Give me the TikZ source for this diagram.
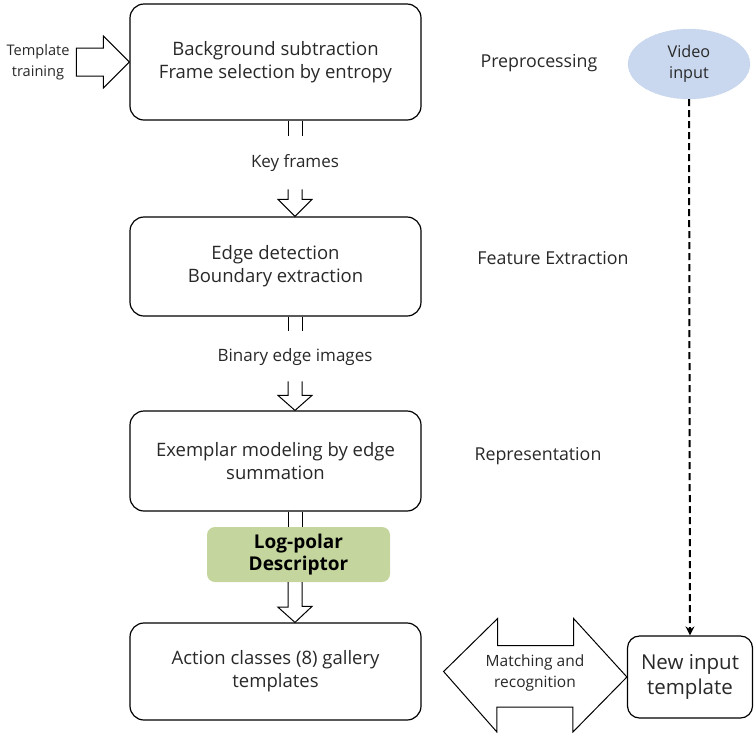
\documentclass[tikz,border=0pt]{standalone}
\usepackage{fontspec}
\setmainfont{Open Sans}
\usetikzlibrary{shapes.geometric,calc,arrows.meta}
\definecolor{vidblue}{RGB}{201,216,239}
\definecolor{videdge}{RGB}{178,197,228}
\definecolor{lpgreen}{RGB}{196,214,158}
\definecolor{txt}{RGB}{40,40,40}
\begin{document}
\begin{tikzpicture}[x=1pt,y=-1pt,
 box/.style={draw, line width=1.2pt, rounded corners=14pt, align=center, inner sep=0pt, font=\fontsize{18.5}{23}\selectfont, text=txt},
 blk/.style={draw, line width=1pt, fill=white, line join=miter},
 shaft/.style={draw, line width=1pt},
 lbl/.style={font=\fontsize{17}{20}\selectfont, text=txt, align=center},
 side/.style={font=\fontsize{17.8}{20}\selectfont, text=txt},
]
\useasboundingbox (0,0) rectangle (754,732);

% main boxes
\node[box, minimum width=291pt, minimum height=116pt] (b1) at (275.5,62) {Background subtraction\\Frame selection by entropy};
\node[box, minimum width=291pt, minimum height=99pt] (b2) at (275.5,266.5) {Edge detection\\Boundary extraction};
\node[box, minimum width=291pt, minimum height=100pt] (b3) at (275.5,461) {Exemplar modeling by edge\\summation};
\node[box, minimum width=291pt, minimum height=97pt] (b4) at (275.5,671.5) {Action classes (8) gallery\\templates};
\node[box, rounded corners=12pt, minimum width=125pt, minimum height=82pt, font=\fontsize{20.5}{25}\selectfont] (new) at (690,677) {New input\\template};

% video input
\node[ellipse, fill=vidblue, draw=videdge, densely dotted, minimum width=122pt, minimum height=70pt, inner sep=0pt, align=center, font=\fontsize{16.2}{21}\selectfont, text=txt] (video) at (689,64) {Video\\input};

% log-polar descriptor
\node[fill=lpgreen, rounded corners=8pt, minimum width=183pt, minimum height=55pt, inner sep=0pt, align=center, font=\fontsize{19}{22}\bfseries\selectfont, text=black] (lp) at (298.5,554.5) {Log-polar\\Descriptor};

% side labels
\node[side] (pre) at (539,63) {Preprocessing};
\node[side] (fe) at (553,258) {Feature Extraction};
\node[side] (rep) at (538,456) {Representation};

% template training arrow
\node[font=\fontsize{14.6}{21}\selectfont, text=txt, align=center] (tt) at (38,62) {Template\\training};
\draw[blk] (b1.west) ++(-26,-26) coordinate (h1) -- (b1.west) -- ++(-26,26) -- ++(0,-12) -- ++(-27,0) -- ++(0,-28) -- ++(27,0) -- cycle;

% arrow 1 : b1 -> b2
\node[lbl] (kf) at (295,163) {Key frames};
\draw[shaft] ($(b1.south)+(12.5,0)$) -- ++(0,15) ($(b1.south)+(26.5,0)$) -- ++(0,15);
\draw[blk, fill=none] ($(b2.north)+(12.5,-27)$) -- ++(0,10) -- ++(-10,0) -- ($(b2.north)+(19.5,0)$) -- ++(17,-17) -- ++(-10,0) -- ++(0,-10);

% arrow 2 : b2 -> b3
\node[lbl] (bei) at (295,357) {Binary edge images};
\draw[shaft] ($(b2.south)+(12.5,0)$) -- ++(0,14) ($(b2.south)+(26.5,0)$) -- ++(0,14);
\draw[blk, fill=none] ($(b3.north)+(12.5,-29)$) -- ++(0,14) -- ++(-10,0) -- ($(b3.north)+(19.5,0)$) -- ++(17,-15) -- ++(-10,0) -- ++(0,-14);

% arrow 3 : b3 -> lp -> b4
\draw[shaft] ($(b3.south)+(12.5,0)$) -- ($(lp.north)+(-10.5,0)$) ($(b3.south)+(26.5,0)$) -- ($(lp.north)+(3.5,0)$);
\draw[blk, fill=none] ($(lp.south)+(-10.5,0)$) -- ++(0,25) -- ++(-10,0) -- ($(b4.north)+(19.5,0)$) -- ++(17,-16) -- ++(-10,0) -- ($(lp.south)+(3.5,0)$);

% matching double arrow
\draw[blk] (b4.east) ++(22,0) coordinate (ml) -- ++(54,-53) -- ++(0,27) -- ++(76,0) -- ++(0,-27) -- (new.west) -- ++(-54,55) -- ++(0,-25) -- ++(-76,0) -- ++(0,25) -- cycle;
\node[font=\fontsize{15.5}{21}\selectfont, text=txt, align=center] (mr) at (535,673) {Matching and\\recognition};

% dashed video arrow
\draw[line width=2pt, dash pattern=on 7pt off 4pt, -{Stealth[length=9pt,width=9pt]}] (video.south) -- (new.north);
\end{tikzpicture}
\end{document}
